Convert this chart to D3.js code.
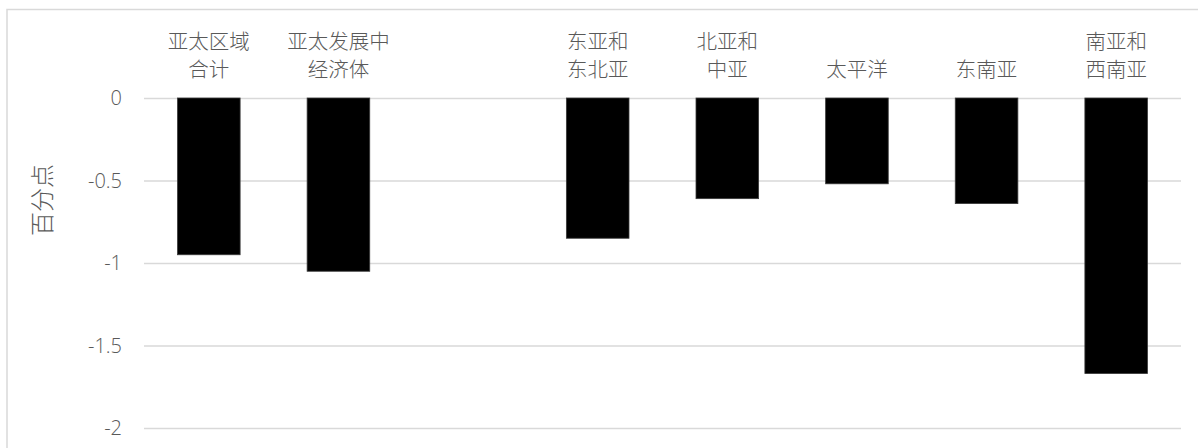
<!DOCTYPE html>
<html>
<head>
<meta charset="utf-8">
<script src="https://cdn.jsdelivr.net/npm/d3@7/dist/d3.min.js"></script>
<style>
  html, body { margin: 0; padding: 0; background: #fff; }
  svg { display: block; }
</style>
</head>
<body>
<svg id="chart" width="1198" height="448"></svg>
<script>
// Regions (an empty slot separates the aggregates from the subregions)
const categories = ["亚太区域\n合计", "亚太发展中\n经济体", "", "东亚和\n东北亚", "北亚和\n中亚", "太平洋", "东南亚", "南亚和\n西南亚"];
// Change, in percentage points
const values = [-0.95, -1.05, null, -0.85, -0.61, -0.52, -0.64, -1.67];
const yTicks = [0, -0.5, -1, -1.5, -2];
const yTitle = "百分点";

const W = 1198, H = 448;
const plot = { left: 144, right: 1181, top: 98, bottom: 428 };

const svg = d3.select("#chart");

// Outer chart frame (runs past the right and bottom edges)
svg.append("path")
  .attr("d", `M7,${H + 5} V9.5 H${W + 5}`)
  .attr("fill", "none")
  .attr("stroke", "#d9d9d9")
  .attr("stroke-width", 1.5);

const x = d3.scaleBand()
  .domain(d3.range(categories.length))
  .range([plot.left, plot.right])
  .paddingInner(0.517)
  .paddingOuter(0.2585);

const y = d3.scaleLinear()
  .domain([0, -2])
  .range([plot.top, plot.bottom]);

// Horizontal gridlines with tick labels
const yAxis = d3.axisLeft(y)
  .tickValues(yTicks)
  .tickSize(-(plot.right - plot.left))
  .tickPadding(22)
  .tickFormat(d => String(d));

const gy = svg.append("g")
  .attr("transform", `translate(${plot.left},0)`)
  .call(yAxis);
gy.select(".domain").remove();
gy.selectAll(".tick line")
  .attr("stroke", "#d9d9d9")
  .attr("stroke-width", 1.3);
gy.selectAll(".tick text")
  .attr("fill", "#595959")
  .attr("font-family", "'Open Sans', 'Noto Sans', sans-serif")
  .attr("font-weight", 300)
  .attr("font-size", 20)
  .attr("dy", "0.34em");

// Bars
svg.append("g")
  .selectAll("rect")
  .data(values.map((v, i) => ({ v, i })).filter(d => d.v !== null))
  .join("rect")
  .attr("x", d => x(d.i))
  .attr("width", x.bandwidth())
  .attr("y", y(0))
  .attr("height", d => y(d.v) - y(0))
  .attr("fill", "#000")
  .attr("stroke", "#3a3a3a")
  .attr("stroke-width", 0.8);

// Category labels above the bars, bottom-aligned lines
const lineY = [40, 67.5];
const labels = svg.append("g")
  .attr("font-family", "'Noto Sans CJK SC', sans-serif")
  .attr("font-weight", 300)
  .attr("font-size", 20.5)
  .attr("fill", "#595959")
  .attr("text-anchor", "middle");

categories.forEach((c, i) => {
  if (!c) return;
  const lines = c.split("\n");
  const offset = lineY.length - lines.length;
  lines.forEach((ln, j) => {
    labels.append("text")
      .attr("x", x(i) + x.bandwidth() / 2)
      .attr("y", lineY[j + offset])
      .attr("dominant-baseline", "central")
      .text(ln);
  });
});

// Y-axis title
svg.append("text")
  .attr("transform", `translate(40,${(plot.top + plot.bottom) / 2 - 63}) rotate(-90)`)
  .attr("text-anchor", "middle")
  .attr("dominant-baseline", "central")
  .attr("font-family", "'Noto Sans CJK SC', sans-serif")
  .attr("font-weight", 300)
  .attr("font-size", 24)
  .attr("fill", "#595959")
  .text(yTitle);
</script>
</body>
</html>
